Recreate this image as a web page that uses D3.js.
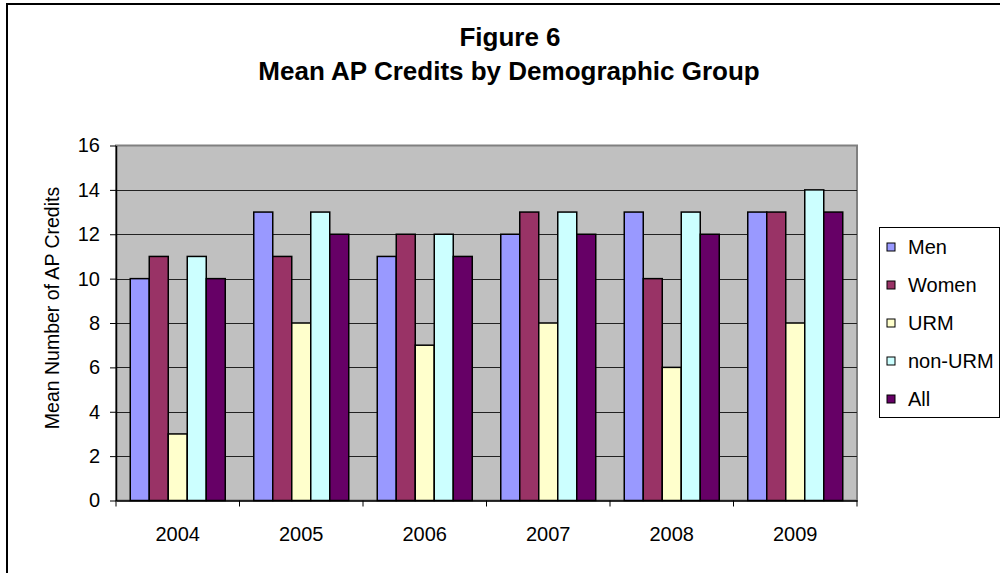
<!DOCTYPE html>
<meta charset="utf-8">
<style>
  body { margin: 0; background: #fff; }
  svg text { font-family: "Liberation Sans", Arial, sans-serif; fill: #000; }
  .bar { stroke: #000; stroke-width: 1.5; }
  .grid line { stroke: #222; stroke-width: 1; }
</style>
<body>
<script src="https://d3js.org/d3.v7.min.js"></script>
<script>
  // chart data
  var years = ["2004", "2005", "2006", "2007", "2008", "2009"];
  var groups = ["Men", "Women", "URM", "non-URM", "All"];
  var men    = [10, 13, 11, 12, 13, 13];
  var women  = [11, 11, 12, 13, 10, 13];
  var urm    = [3, 8, 7, 8, 6, 8];
  var nonUrm = [11, 13, 12, 13, 13, 14];
  var all    = [10, 12, 11, 12, 12, 13];
  var yTicks = [0, 2, 4, 6, 8, 10, 12, 14, 16];
  var colors = ["#9999FF", "#993366", "#FFFFCC", "#CCFFFF", "#660066"];

  var seriesValues = [men, women, urm, nonUrm, all];

  var W = 1000, H = 573;
  var plot = {left: 116, right: 857, top: 145.5, bottom: 500.5};

  var svg = d3.select("body").append("svg")
      .attr("width", W)
      .attr("height", H);

  // outer chart frame (runs off right and bottom edges)
  svg.append("rect")
      .attr("x", 7).attr("y", 4)
      .attr("width", 1000).attr("height", 600)
      .attr("fill", "#fff")
      .attr("stroke", "#000")
      .attr("stroke-width", 2);

  // titles
  svg.append("text")
      .attr("x", 510).attr("y", 46)
      .attr("text-anchor", "middle")
      .style("font-weight", "bold").style("font-size", "26px")
      .text("Figure 6");
  svg.append("text")
      .attr("x", 509).attr("y", 80)
      .attr("text-anchor", "middle")
      .style("font-weight", "bold").style("font-size", "26px")
      .text("Mean AP Credits by Demographic Group");

  var x0 = d3.scaleBand()
      .domain(years)
      .range([plot.left, plot.right])
      .paddingInner(0).paddingOuter(0);

  var x1 = d3.scaleBand()
      .domain(groups)
      .range([0, x0.bandwidth()])
      .paddingInner(0).paddingOuter(0.75);

  var y = d3.scaleLinear()
      .domain([0, 16])
      .range([plot.bottom, plot.top]);

  // plot background
  svg.append("rect")
      .attr("x", plot.left).attr("y", plot.top)
      .attr("width", plot.right - plot.left)
      .attr("height", plot.bottom - plot.top)
      .attr("fill", "#C0C0C0")
      .attr("stroke", "#808080")
      .attr("stroke-width", 2);

  // gridlines
  svg.append("g").attr("class", "grid")
    .selectAll("line")
    .data(yTicks.filter(function(d) { return d > 0 && d < 16; }))
    .join("line")
      .attr("x1", plot.left).attr("x2", plot.right)
      .attr("y1", function(d) { return Math.round(y(d)) + 0.5; })
      .attr("y2", function(d) { return Math.round(y(d)) + 0.5; });

  // bars
  var data = [];
  years.forEach(function(yr, i) {
    groups.forEach(function(g, j) {
      data.push({year: yr, group: g, value: seriesValues[j][i], color: colors[j]});
    });
  });

  svg.append("g")
    .selectAll("rect")
    .data(data)
    .join("rect")
      .attr("class", "bar")
      .attr("x", function(d) { return x0(d.year) + x1(d.group); })
      .attr("y", function(d) { return y(d.value); })
      .attr("width", x1.bandwidth())
      .attr("height", function(d) { return y(0) - y(d.value); })
      .attr("fill", function(d) { return d.color; });

  // y axis
  var yAxis = svg.append("g")
      .attr("transform", "translate(" + plot.left + ",0)")
      .call(d3.axisLeft(y).tickValues(yTicks).tickSize(6).tickPadding(10).tickSizeOuter(0));
  yAxis.selectAll("text").style("font-size", "20px");
  yAxis.select(".domain").attr("stroke", "#000").attr("stroke-width", 1.5);

  // x axis labels
  var xAxis = svg.append("g")
      .attr("transform", "translate(0," + plot.bottom + ")")
      .call(d3.axisBottom(x0).tickSize(0).tickPadding(26));
  xAxis.selectAll("text").style("font-size", "20px");
  xAxis.select(".domain").attr("stroke", "#000").attr("stroke-width", 1.5);

  // x ticks between categories
  svg.append("g")
    .selectAll("line")
    .data(years.concat(["end"]))
    .join("line")
      .attr("x1", function(d) { return d === "end" ? plot.right : x0(d); })
      .attr("x2", function(d) { return d === "end" ? plot.right : x0(d); })
      .attr("y1", plot.bottom).attr("y2", plot.bottom + 6)
      .attr("stroke", "#000");

  // y axis title
  svg.append("text")
      .attr("transform", "translate(59,308) rotate(-90)")
      .attr("text-anchor", "middle")
      .style("font-size", "19.5px")
      .text("Mean Number of AP Credits");

  // legend
  var legend = svg.append("g");
  legend.append("rect")
      .attr("x", 879.5).attr("y", 227.5)
      .attr("width", 120).attr("height", 190)
      .attr("fill", "#fff").attr("stroke", "#000");

  var ly = d3.scalePoint().domain(groups).range([247, 399]);
  var item = legend.selectAll("g.item")
    .data(groups)
    .join("g").attr("class", "item")
      .attr("transform", function(d) { return "translate(0," + ly(d) + ")"; });
  item.append("rect")
      .attr("x", 887).attr("y", -4)
      .attr("width", 8).attr("height", 8)
      .attr("fill", function(d, i) { return colors[i]; })
      .attr("stroke", "#000");
  item.append("text")
      .attr("x", 908).attr("y", 7)
      .style("font-size", "20px")
      .text(function(d) { return d; });
</script>
</body>
